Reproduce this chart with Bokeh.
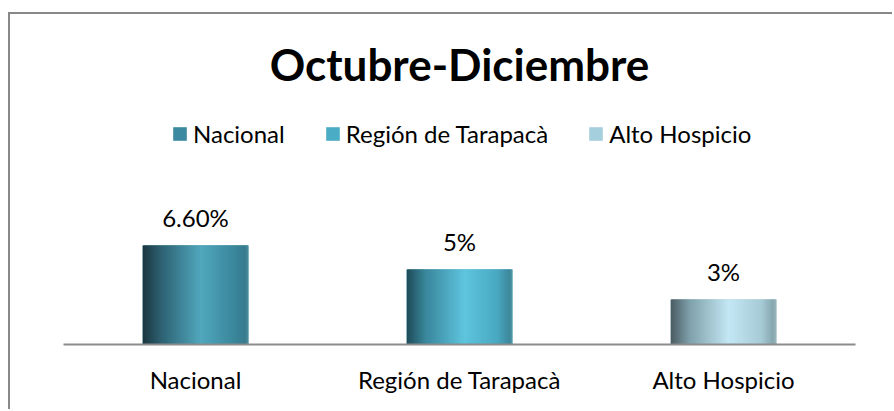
import numpy as np
from bokeh.plotting import figure
from bokeh.models import Range1d, FixedTicker, Legend, LegendItem
from bokeh.embed import file_html
from bokeh.resources import INLINE
from bokeh.core.properties import value

# ---- data ----
title_text = "Octubre-Diciembre"
categories = ["Nacional", "Región de Tarapacà", "Alto Hospicio"]
values = [6.6, 5, 3]
value_labels = ["6.60%", "5%", "3%"]
legend_colors = ["#3b8aa0", "#4bacc6", "#a5cfdc"]
# horizontal gradient stops per bar (position, colour)
gradients = [
    [(0.0, "#1b3640"), (0.18, "#2e6374"), (0.55, "#51a7bd"), (0.86, "#3a889c"), (0.97, "#387b8d"), (1.0, "#4c8fa0")],
    [(0.0, "#1f4c59"), (0.18, "#3a879c"), (0.55, "#5ec5de"), (0.86, "#49a8c1"), (0.97, "#3d889c"), (1.0, "#5297a8")],
    [(0.0, "#4a5b62"), (0.18, "#7fa1ab"), (0.55, "#c3e7f4"), (0.86, "#a6cbd6"), (0.97, "#87a6ae"), (1.0, "#9db7be")],
]

BAR_W = 0.4
N_SLICES = 105


def hex2rgb(h):
    h = h.lstrip("#")
    return np.array([int(h[i:i + 2], 16) for i in (0, 2, 4)], dtype=float)


def grad_color(stops, t):
    for (p0, c0), (p1, c1) in zip(stops[:-1], stops[1:]):
        if p0 <= t <= p1:
            f = 0 if p1 == p0 else (t - p0) / (p1 - p0)
            c = hex2rgb(c0) * (1 - f) + hex2rgb(c1) * f
            return "#%02x%02x%02x" % tuple(int(round(v)) for v in c)
    return stops[-1][1]


p = figure(width=884, height=397, output_backend="svg", toolbar_location=None,
           x_range=Range1d(0, len(categories)), y_range=Range1d(0, 244 / 15.0),
           min_border_left=53, min_border_right=39, min_border_top=86, min_border_bottom=67)
p.styles = {"border-left": "2px solid #888888", "border-top": "2px solid #888888",
            "margin-top": "12px", "margin-left": "8px"}

centers = [i + 0.5 for i in range(len(categories))]

legend_renderers = []
for i, (c, v) in enumerate(zip(centers, values)):
    # flat bar (also used for the legend swatch), covered by the gradient slices
    r = p.quad(left=[c - BAR_W / 2], right=[c + BAR_W / 2], bottom=[0], top=[v],
               fill_color=legend_colors[i], line_color=None)
    legend_renderers.append(r)
    dw = BAR_W / N_SLICES
    lefts = [c - BAR_W / 2 + k * dw for k in range(N_SLICES)]
    rights = [min(l + 2 * dw, c + BAR_W / 2) for l in lefts]
    cols = [grad_color(gradients[i], (k + 0.5) / N_SLICES) for k in range(N_SLICES)]
    p.quad(left=lefts, right=rights, bottom=[0] * N_SLICES, top=[v] * N_SLICES,
           fill_color=cols, line_color=None)

p.text(x=centers, y=values, text=value_labels, text_align="center", text_baseline="alphabetic",
       y_offset=-28, text_font=value("Lato"), text_font_size="24px", text_color="#000000")

# legend
items = [LegendItem(label=cat, renderers=[r]) for cat, r in zip(categories, legend_renderers)]
legend = Legend(items=items, location=(108, 196), orientation="horizontal",
                glyph_width=17, glyph_height=17, label_standoff=5, spacing=39,
                padding=0, margin=0, border_line_color=None, background_fill_alpha=0,
                label_text_font="Lato", label_text_font_size="24px", label_text_color="#000000")
p.add_layout(legend)

# title
p.title.text = title_text
p.title.align = "center"
p.title.text_font = "Lato"
p.title.text_font_style = "bold"
p.title.text_font_size = "44px"
p.title.text_color = "#000000"
p.title.standoff = 21

# axes
p.yaxis.visible = False
p.xgrid.visible = False
p.ygrid.visible = False
p.outline_line_color = None
ax = p.xaxis[0]
ax.ticker = FixedTicker(ticks=centers)
ax.major_label_overrides = {c: cat for c, cat in zip(centers, categories)}
ax.axis_line_color = "#8c8c8c"
ax.axis_line_width = 2
ax.major_tick_line_color = None
ax.minor_tick_line_color = None
ax.major_label_standoff = 14
ax.major_label_text_font = "Lato"
ax.major_label_text_font_size = "24px"
ax.major_label_text_color = "#000000"

open("out.html", "w").write(file_html(p, INLINE))
